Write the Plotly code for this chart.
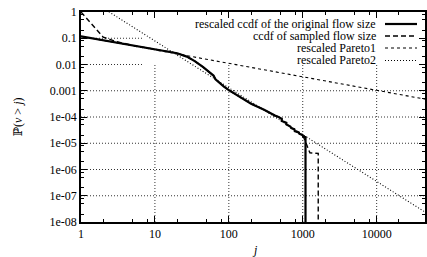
import plotly.graph_objects as go
import math

# ---------------- data ----------------
orig_j = [1, 5, 10, 15, 20, 27, 35, 45, 55, 62, 66, 72, 85, 100, 150, 200, 300,
          380, 420, 470, 520, 520, 600, 600, 680, 700, 770, 780, 880, 900, 1000,
          1010, 1090, 1090]
orig_p = [0.1175, 0.0537, 0.038, 0.0309, 0.0269, 0.020, 0.0132, 0.0079, 0.005,
          0.0038, 0.00275, 0.00219, 0.00148, 0.00105, 5.2e-4, 3.2e-4, 1.9e-4,
          1.3e-4, 1.15e-4, 1.0e-4, 8.5e-5, 7.0e-5, 6.0e-5, 5.2e-5, 4.3e-5, 3.8e-5,
          3.4e-5, 2.9e-5, 2.6e-5, 2.3e-5, 2.0e-5, 1.8e-5, 1.7e-5, 1e-12]

samp_j = [1, 2, 3, 5, 10, 15, 20, 27, 35, 45, 55, 62, 66, 72, 85, 100, 150, 200,
          300, 380, 420, 470, 520, 520, 600, 600, 680, 700, 770, 780, 880, 900,
          1000, 1070, 1250, 1620, 1620]
samp_p = [1.0, 0.11, 0.075, 0.0537, 0.038, 0.0309, 0.0269, 0.020, 0.0132, 0.0079,
          0.005, 0.0038, 0.00275, 0.00219, 0.00148, 0.00105, 5.2e-4, 3.2e-4, 1.9e-4,
          1.3e-4, 1.15e-4, 1.0e-4, 8.5e-5, 7.0e-5, 6.0e-5, 5.2e-5, 4.3e-5, 3.8e-5,
          3.4e-5, 2.9e-5, 2.6e-5, 2.3e-5, 2.0e-5, 1.3e-5, 4.3e-6, 4.1e-6, 1e-12]

pareto1_j = [1, 45000]
pareto1_p = [0.118, 4.8e-4]

pareto2_j = [1, 45000]
pareto2_p = [4.8, 2.4e-8]

series_names = ["rescaled ccdf of the original flow size",
                "ccdf of sampled flow size",
                "rescaled Pareto1",
                "rescaled Pareto2"]

x_tickvals = [1, 10, 100, 1000, 10000]
x_ticktext = ["1", "10", "100", "1000", "10000"]
y_tickvals = [1, 0.1, 0.01, 0.001, 1e-4, 1e-5, 1e-6, 1e-7, 1e-8]
y_ticktext = ["1", "0.1", "0.01", "0.001", "1e-04", "1e-05", "1e-06", "1e-07", "1e-08"]

# ---------------- layout geometry ----------------
W, H = 427, 257
L, R, T, B = 81, 2, 12, 35
PW, PH = W - L - R, H - T - B
FONT = "'Liberation Serif', 'Times New Roman', 'DejaVu Serif', serif"
FS = 12
X_LOG_MAX = 4.654
X_MAX = 10 ** X_LOG_MAX

def px(xp):
    return (xp - L) / PW

def py(yp):
    return (H - B - yp) / PH

# key box edges (data units) : grid is hidden behind the key
key_x0 = 10 ** ((143 - L) / PW * X_LOG_MAX)
key_y0 = 10 ** (-8 * (1 - py(65)))

styles = [
    dict(color="black", width=2.2, dash="solid"),
    dict(color="black", width=1.4, dash="5px,3px"),
    dict(color="black", width=1.1, dash="3px,3px"),
    dict(color="black", width=1.1, dash="1px,2px"),
]

fig = go.Figure()

# grid lines (dotted), hidden inside the key area
gx, gy = [], []
for v in x_tickvals[1:]:
    gx += [v, v, None]
    gy += [1e-8, key_y0, None]
for v in y_tickvals[1:-1]:
    gx += [1, key_x0 if v >= key_y0 else X_MAX, None]
    gy += [v, v, None]
fig.add_trace(go.Scatter(x=gx, y=gy, mode="lines", hoverinfo="skip",
                         line=dict(color="#333", width=1, dash="1px,2px"),
                         showlegend=False))

for (xs, ys), name, st in zip(
        [(orig_j, orig_p), (samp_j, samp_p), (pareto1_j, pareto1_p), (pareto2_j, pareto2_p)],
        series_names, styles):
    fig.add_trace(go.Scatter(x=xs, y=ys, mode="lines", name=name, line=st,
                             showlegend=False))

x_minor = [m * 10 ** d for d in range(0, 5) for m in (2, 5, 8) if m * 10 ** d < X_MAX]
y_minor = [m * 10.0 ** (-d) for d in range(1, 9) for m in (2, 5, 8)]

axis_common = dict(
    showline=True, linecolor="black", linewidth=1.5, mirror="ticks",
    ticks="inside", ticklen=6, tickwidth=1, tickcolor="black",
    showgrid=False, zeroline=False, automargin=False,
    tickfont=dict(family=FONT, size=FS, color="black"),
)

fig.update_xaxes(type="log", range=[0, X_LOG_MAX], tickmode="array",
                 tickvals=x_tickvals, ticktext=x_ticktext,
                 minor=dict(tickmode="array", tickvals=x_minor, ticks="inside",
                            ticklen=3, tickcolor="black", showgrid=False),
                 **axis_common)
fig.update_yaxes(type="log", range=[-8, 0], tickmode="array",
                 tickvals=y_tickvals, ticktext=y_ticktext,
                 minor=dict(tickmode="array", tickvals=y_minor, ticks="inside",
                            ticklen=3, tickcolor="black", showgrid=False),
                 **axis_common)

shapes = []
annotations = []
rows = [24, 36, 48, 60.5]
for name, st, yrow in zip(series_names, styles, rows):
    annotations.append(dict(xref="paper", yref="paper", x=px(378), y=py(yrow),
                            text=name, showarrow=False, xanchor="right",
                            yanchor="middle",
                            font=dict(family=FONT, size=FS, color="black")))
    shapes.append(dict(type="line", xref="paper", yref="paper",
                       x0=px(385), x1=px(417), y0=py(yrow), y1=py(yrow),
                       line=st, layer="above"))

annotations.append(dict(xref="paper", yref="paper", x=px(255), y=py(250),
                        text="<i>j</i>", showarrow=False, xanchor="center",
                        yanchor="middle",
                        font=dict(family=FONT, size=FS, color="black")))
annotations.append(dict(xref="paper", yref="paper", x=px(18), y=py(117),
                        text="ℙ(<i>v</i> &gt; <i>j</i>)", showarrow=False,
                        textangle=-90, xanchor="center", yanchor="middle",
                        font=dict(family=FONT, size=FS, color="black")))

fig.update_layout(width=W, height=H, margin=dict(l=L, r=R, t=T, b=B, autoexpand=False),
                  paper_bgcolor="white", plot_bgcolor="white",
                  font=dict(family=FONT, size=FS, color="black"),
                  shapes=shapes, annotations=annotations, showlegend=False)

fig.write_html("out.html", config={"displayModeBar": False},
               post_script="document.body.style.margin='0';document.body.style.overflow='hidden';")
